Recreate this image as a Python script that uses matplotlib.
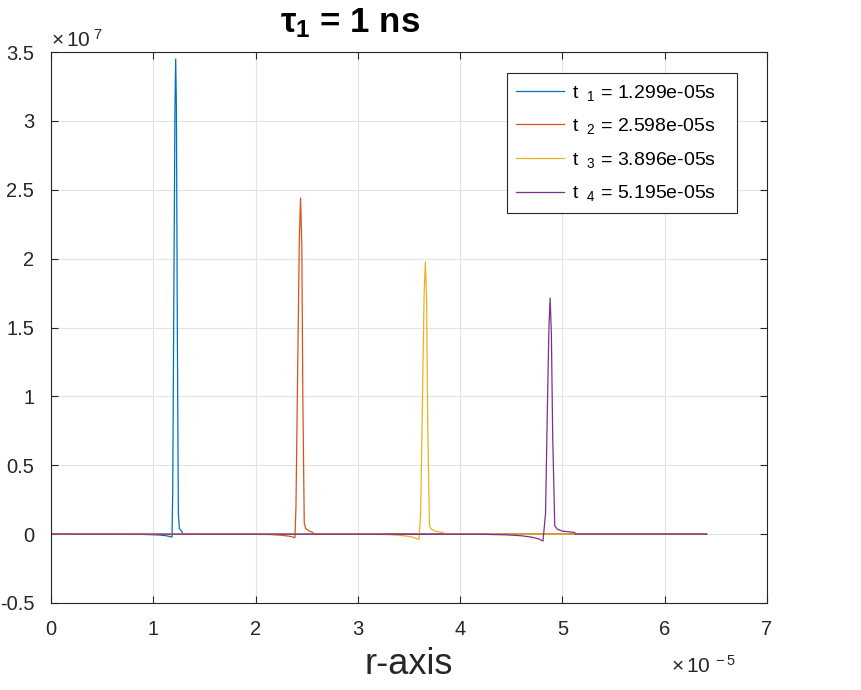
import numpy as np
import matplotlib.pyplot as plt
from matplotlib.ticker import FuncFormatter, MultipleLocator

plt.rcParams['font.family'] = ['Liberation Sans', 'DejaVu Sans']
plt.rcParams['mathtext.fontset'] = 'custom'
plt.rcParams['mathtext.rm'] = 'Liberation Sans'
plt.rcParams['mathtext.it'] = 'Liberation Sans:italic'
plt.rcParams['mathtext.bf'] = 'Liberation Sans:bold'

# r in units of 1e-5, values in units of 1e7
r1 = [0, 0.90, 1.05, 1.12, 1.16, 1.183, 1.190, 1.200, 1.212, 1.219, 1.226, 1.235, 1.245, 1.255, 1.28, 1.285, 6.41]
y1 = [0, -0.002, -0.006, -0.011, -0.017, -0.022, 0.3, 1.6, 3.1, 3.45, 3.1, 1.5, 0.15, 0.04, 0.02, 0, 0]

r2 = [0, 1.9, 2.14, 2.25, 2.32, 2.36, 2.385, 2.395, 2.41, 2.428, 2.44, 2.452, 2.462, 2.476, 2.49, 2.52, 2.56, 2.565, 6.41]
y2 = [0, -0.001, -0.003, -0.008, -0.014, -0.020, -0.027, 0.2, 1.1, 2.15, 2.44, 2.1, 1.0, 0.08, 0.04, 0.025, 0.012, 0, 0]

r3 = [0, 3.1, 3.31, 3.43, 3.51, 3.56, 3.597, 3.614, 3.63, 3.648, 3.66, 3.672, 3.683, 3.70, 3.72, 3.76, 3.84, 3.845, 6.41]
y3 = [0, -0.001, -0.004, -0.010, -0.018, -0.027, -0.039, 0.15, 0.9, 1.75, 1.975, 1.7, 0.8, 0.06, 0.035, 0.02, 0.01, 0, 0]

r4 = [0, 4.2, 4.45, 4.6, 4.7, 4.77, 4.81, 4.835, 4.85, 4.868, 4.88, 4.892, 4.905, 4.925, 4.95, 5.0, 5.12, 5.125, 6.41]
y4 = [0, -0.001, -0.005, -0.012, -0.022, -0.035, -0.05, 0.15, 0.8, 1.5, 1.713, 1.45, 0.7, 0.06, 0.035, 0.022, 0.012, 0, 0]

tiempos = ['1.299e-05', '2.598e-05', '3.896e-05', '5.195e-05']
colores = ['#0072BD', '#D95319', '#EDB120', '#7E2F8E']

fig = plt.figure(figsize=(8.61, 6.9), dpi=100)
ax = fig.add_axes([51/861, 1-603/690, (767-51)/861, (603-52)/690])

for i, (r, y) in enumerate([(r1, y1), (r2, y2), (r3, y3), (r4, y4)]):
    ax.plot(np.array(r)*1e-5, np.array(y)*1e7, color=colores[i], lw=0.9,
            label=r't $_{\ %d}$ = %ss   ' % (i+1, tiempos[i]))

ax.set_xlim(0, 7e-5)
ax.set_ylim(-0.5e7, 3.5e7)
ax.xaxis.set_major_locator(MultipleLocator(1e-5))
ax.yaxis.set_major_locator(MultipleLocator(0.5e7))
ax.xaxis.set_major_formatter(FuncFormatter(lambda v, p: '%g' % round(v/1e-5, 6)))
ax.yaxis.set_major_formatter(FuncFormatter(lambda v, p: '%g' % round(v/1e7, 6)))

gris = '#262626'
ax.grid(True, color='#e3e3e3', lw=0.8)
ax.set_axisbelow(True)
for s in ax.spines.values():
    s.set_color(gris)
    s.set_linewidth(0.8)
ax.tick_params(direction='in', top=True, right=True, length=5, width=0.8,
               colors=gris, labelsize=14.5)
ax.tick_params(axis='x', pad=12)
ax.tick_params(axis='y', pad=12)

ax.text(0.0, 1.002, r'$\times\,10^{\ 7}$', transform=ax.transAxes, fontsize=15,
        color=gris, ha='left', va='bottom')
ax.text(0.957, -0.095, r'$\times\,10^{\ -5}$', transform=ax.transAxes, fontsize=15,
        color=gris, ha='right', va='top')

ax.set_xlabel('r-axis', fontsize=26, color=gris, labelpad=6)
fig.text(350/861, 1-23/690, r'τ$_{\mathbf{1}}$ = 1 ns', fontsize=25, fontweight='bold',
         ha='center', va='center', color='black')

leg = ax.legend(loc='upper right', bbox_to_anchor=(0.958, 0.962), fontsize=14,
                fancybox=False, framealpha=1, edgecolor=gris, handlelength=2.45,
                handletextpad=0.4, labelspacing=0.7, borderpad=0.5,
                borderaxespad=0)
leg.get_frame().set_linewidth(0.8)

plt.savefig('out.png', dpi=100)
